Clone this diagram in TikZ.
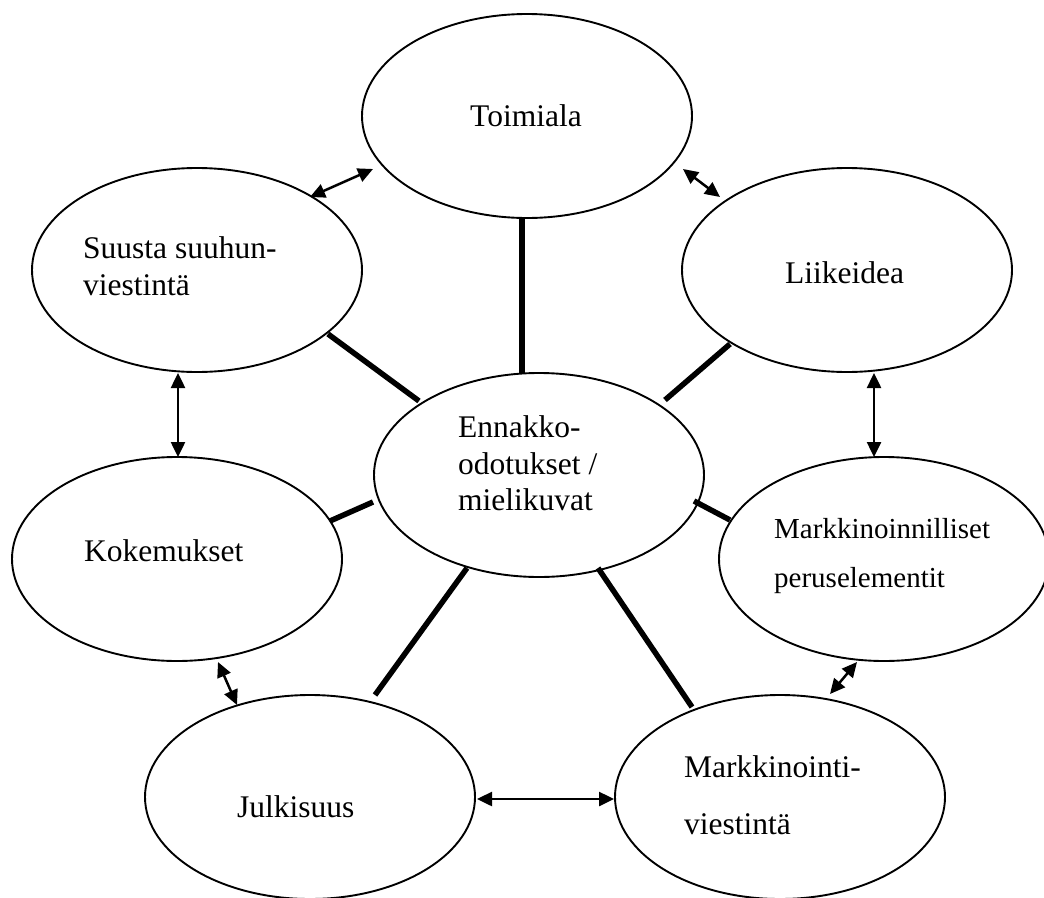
\documentclass[tikz,border=0pt]{standalone}
\usepackage{fontspec}
\setmainfont{Liberation Serif}
\usetikzlibrary{arrows.meta,shapes.geometric}
\begin{document}
\begin{tikzpicture}[x=1pt,y=-1pt,
  ell/.style={draw, line width=1.9pt, ellipse, minimum width=330pt, minimum height=204pt, inner sep=0pt},
  lbl/.style={anchor=base west, inner sep=0pt, font=\fontsize{31.5}{37}\selectfont},
  lbls/.style={anchor=base west, inner sep=0pt, font=\fontsize{29}{35}\selectfont},
  tie/.style={line width=5.5pt},
  rel/.style={line width=2.5pt, {Triangle[length=15pt,width=14pt]}-{Triangle[length=15pt,width=14pt]}}]
\useasboundingbox (0,0) rectangle (1044,897);
\node[ell] (toim) at (527,116) {};
\node[ell] (suus) at (197,270) {};
\node[ell] (liik) at (847,270) {};
\node[ell] (enn)  at (539,475) {};
\node[ell] (koke) at (177,559) {};
\node[ell] (mpe)  at (884,559) {};
\node[ell] (julk) at (310,797) {};
\node[ell] (mvi)  at (780,797) {};
% texts
\node[lbl] (t-toim) at (470,126) {Toimiala};
\node[lbl] (t-suus1) at (83,258) {Suusta suuhun-};
\node[lbl] (t-suus2) at (83,295) {viestintä};
\node[lbl] (t-liik) at (785,283) {Liikeidea};
\node[lbl] (t-enn1) at (458,437) {Ennakko-};
\node[lbl] (t-enn2) at (458,474) {odotukset /};
\node[lbl] (t-enn3) at (458,510) {mielikuvat};
\node[lbl] (t-koke) at (84,561) {Kokemukset};
\node[lbls] (t-mpe1) at (774,538) {Markkinoinnilliset};
\node[lbls] (t-mpe2) at (774,587) {peruselementit};
\node[lbl] (t-julk) at (237,817) {Julkisuus};
\node[lbl] (t-mvi1) at (684,777) {Markkinointi-};
\node[lbl] (t-mvi2) at (684,834) {viestintä};
% thick ties to centre
\draw[tie] ([shift={(-5,102)}]toim.center) -- ([shift={(-17,-102)}]enn.center);
\draw[tie] ([shift={(131,64)}]suus.center) -- ([shift={(-120,-74)}]enn.center);
\draw[tie] ([shift={(-117,74)}]liik.center) -- ([shift={(126,-75)}]enn.center);
\draw[tie] ([shift={(153,-38)}]koke.center) -- ([shift={(-166,27)}]enn.center);
\draw[tie] ([shift={(65,-102)}]julk.center) -- ([shift={(-72,93)}]enn.center);
\draw[tie] ([shift={(-88,-90)}]mvi.center) -- ([shift={(59,93)}]enn.center);
\draw[tie] ([shift={(-154,-39)}]mpe.center) -- ([shift={(155,26)}]enn.center);
% two-way arrows
\draw[rel] ([shift={(113,-73)}]suus.center) -- ([shift={(-154,53)}]toim.center);
\draw[rel] ([shift={(156,53)}]toim.center) -- ([shift={(-127,-73)}]liik.center);
\draw[rel] ([shift={(-19,103)}]suus.center) -- ([shift={(1,-102)}]koke.center);
\draw[rel] ([shift={(27,103)}]liik.center) -- ([shift={(-10,-102)}]mpe.center);
\draw[rel] ([shift={(41,103)}]koke.center) -- ([shift={(-73,-92)}]julk.center);
\draw[rel] ([shift={(-27,103)}]mpe.center) -- ([shift={(50,-103)}]mvi.center);
\draw[rel] ([shift={(167,2)}]julk.center) -- ([shift={(-166,2)}]mvi.center);
\end{tikzpicture}
\end{document}
